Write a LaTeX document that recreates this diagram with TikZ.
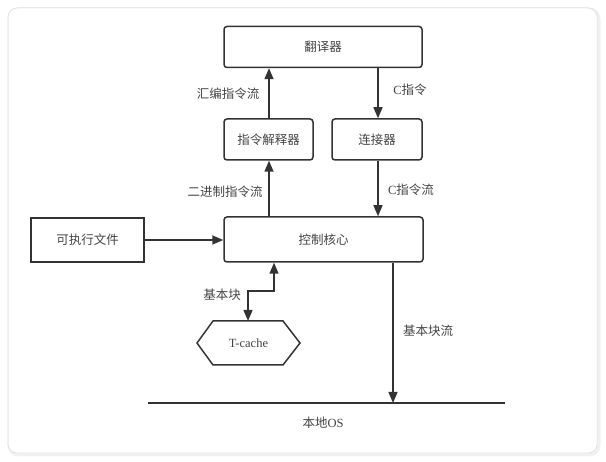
\documentclass[tikz,border=0pt]{standalone}
\usepackage{fontspec}
\setmainfont{Liberation Serif}
\newfontfamily\cjk{Noto Sans CJK SC}
\usetikzlibrary{shapes.geometric,arrows.meta}
\definecolor{ink}{HTML}{333333}
\definecolor{lbl}{HTML}{444444}
\tikzset{
  box/.style={draw=ink, line width=1.5pt, rounded corners=3pt, minimum height=41pt, inner sep=0pt, font=\fontsize{12.5}{14}\selectfont\cjk, text=lbl},
  sqbox/.style={draw=ink, line width=1.5pt, minimum height=44pt, inner sep=0pt, font=\fontsize{12.5}{14}\selectfont\cjk, text=lbl},
  conn/.style={draw=ink, line width=1.5pt, -{Triangle[length=11pt,width=9pt]}},
  biconn/.style={draw=ink, line width=1.5pt, {Triangle[length=11pt,width=9pt]}-{Triangle[length=11pt,width=9pt]}},
  lab/.style={font=\fontsize{12.5}{14}\selectfont, text=lbl, inner sep=1pt},
}
\begin{document}
\begin{tikzpicture}[x=1pt,y=-1pt]
\useasboundingbox (0,0) rectangle (606,462);
% frame with soft shadow
\draw[gray!12, line width=3pt, rounded corners=10pt] (9,9) rectangle (599,455);
\draw[gray!22, line width=1pt, rounded corners=9pt] (8,8) rectangle (597,453);
\fill[white, rounded corners=9pt] (8.5,8.5) rectangle (596.5,452.5);

\node[box, minimum width=198pt] (trans) at (323,47) {翻译器};
\node[box, minimum width=89pt] (interp) at (268.5,139.5) {指令解释器};
\node[box, minimum width=90pt] (link) at (377,139.5) {连接器};
\node[box, minimum width=199pt, minimum height=45pt] (core) at (323.5,239.5) {控制核心};
\node[sqbox, minimum width=113pt] (exe) at (87.5,240) {可执行文件};
\coordinate (tcl) at (197,343);
\coordinate (tctl) at (213,321);
\coordinate (tctr) at (283,321);
\coordinate (tcr) at (300,343);
\coordinate (tcbr) at (283,365);
\coordinate (tcbl) at (213,365);
\draw[ink, line width=1.5pt, line join=miter] (tcl) -- (tctl) -- (tctr) -- (tcr) -- (tcbr) -- (tcbl) -- cycle;
\node[lab] (tclab) at (248.5,343) {T-cache};

\coordinate (osL) at (148,403);
\coordinate (osR) at (505,403);
\draw[ink, line width=1.6pt] (osL) -- (osR);
\coordinate (osArrow) at (393,403);
\node[lab] (os) at (323,423) {{\cjk 本地}OS};

% connectors
\draw[conn] (interp.north -| 269,0) -- (trans.south -| 269,0);
\node[lab] (l1) at (228,94) {\cjk 汇编指令流};
\draw[conn] (trans.south -| 378,0) -- (link.north -| 378,0);
\node[lab] (l2) at (410,90) {C{\cjk 指令}};
\draw[conn] (core.north -| 269,0) -- (interp.south -| 269,0);
\node[lab] (l3) at (225,192) {\cjk 二进制指令流};
\draw[conn] (link.south -| 378,0) -- (core.north -| 378,0);
\node[lab] (l4) at (411,190) {C{\cjk 指令流}};
\draw[conn] (exe.east) -- (core.west |- exe.east);
\coordinate (b1) at (274,291);
\coordinate (b2) at (248,291);
\draw[biconn] (core.south -| b1) -- (b1) -- (b2) -- (tctl -| b2);
\node[lab] (l5) at (222,295) {\cjk 基本块};
\draw[conn] (core.south -| osArrow) -- (osArrow);
\node[lab] (l6) at (428,331) {\cjk 基本块流};
\end{tikzpicture}
\end{document}
